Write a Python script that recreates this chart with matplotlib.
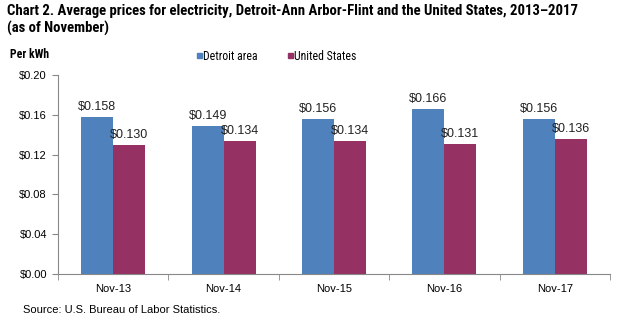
import numpy as np
import matplotlib.pyplot as plt
from matplotlib.patches import Rectangle
from matplotlib import font_manager

categories = ['Nov-13', 'Nov-14', 'Nov-15', 'Nov-16', 'Nov-17']
detroit = [0.158, 0.149, 0.156, 0.166, 0.156]
us = [0.130, 0.134, 0.134, 0.131, 0.136]
series_names = ['Detroit area', 'United States']
colors = ['#4F81BD', '#953163']

plt.rcParams['font.family'] = ['Liberation Sans', 'DejaVu Sans']

# look for a condensed face for the title, like Arial Narrow in the original
installed = {f.name for f in font_manager.fontManager.ttflist}
narrow = None
for name in ['Liberation Sans Narrow', 'Arial Narrow', 'Roboto Condensed',
             'Open Sans Condensed', 'DejaVu Sans Condensed', 'Noto Sans Condensed']:
    if name in installed:
        narrow = name
        break
if narrow:
    title_font, title_size = [narrow, 'Liberation Sans'], 10.6
else:
    title_font, title_size = ['Liberation Sans'], 8

fig = plt.figure(figsize=(6.4, 3.3), dpi=100)
ax = fig.add_axes([58 / 640, 1 - 274 / 330, (610 - 58) / 640, (274 - 75) / 330])

x = np.arange(len(categories))
w = 0.29
b1 = ax.bar(x - w / 2, detroit, w, color=colors[0])
b2 = ax.bar(x + w / 2, us, w, color=colors[1])

for bars, vals in [(b1, detroit), (b2, us)]:
    for r, v in zip(bars, vals):
        ax.text(r.get_x() + r.get_width() / 2, v + 0.004, '${:.3f}'.format(v),
                ha='center', va='bottom', fontsize=9, color='#222222')

ax.set_xlim(-0.5, len(categories) - 0.5)
ax.set_ylim(0, 0.20)
ax.set_yticks(np.arange(0, 0.201, 0.04))
ax.set_yticklabels(['${:.2f}'.format(t) for t in np.arange(0, 0.201, 0.04)], fontsize=8)
ax.set_xticks(x)
ax.set_xticklabels(categories, fontsize=8)
ax.set_xticks(np.arange(-0.5, len(categories), 1), minor=True)
ax.tick_params(axis='x', which='major', length=0, pad=7)
ax.tick_params(axis='x', which='minor', length=4, color='#888888', direction='out')
ax.tick_params(axis='y', length=4, color='#888888', direction='out', pad=4)
for s in ['top', 'right']:
    ax.spines[s].set_visible(False)
for s in ['left', 'bottom']:
    ax.spines[s].set_color('#888888')

fig.text(7 / 640, 1 - 20 / 330,
         'Chart 2. Average prices for electricity, Detroit-Ann Arbor-Flint and the United States, 2013\u20132017\n(as of November)',
         fontsize=title_size, fontweight='bold', family=title_font,
         va='center', ha='left', linespacing=1.25)
fig.text(10 / 640, 1 - 55 / 330, 'Per kWh', fontsize=8.5, fontweight='bold', va='center',
         family=title_font)
for lx, name, c in [(200, series_names[0], colors[0]), (291, series_names[1], colors[1])]:
    fig.patches.append(Rectangle((lx / 640 - 3 / 640, 1 - 58 / 330), 5 / 640, 5 / 330,
                                 transform=fig.transFigure, color=c))
    fig.text((lx + 3) / 640, 1 - 56 / 330, name, fontsize=8.5, va='center', family=title_font)
fig.text(23 / 640, 1 - 310 / 330, 'Source: U.S. Bureau of Labor Statistics.', fontsize=8, va='center')

fig.savefig('out.png', dpi=100)
